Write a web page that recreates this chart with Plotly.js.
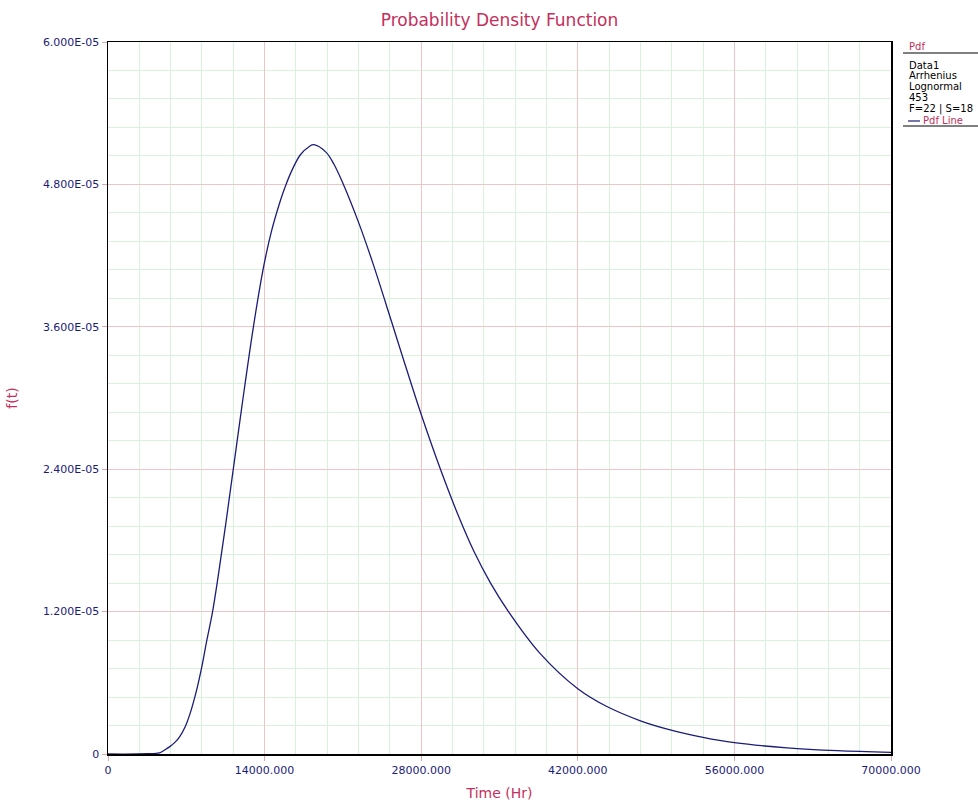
<!DOCTYPE html>
<html>
<head>
<meta charset="utf-8">
<script src="https://cdn.plot.ly/plotly-3.0.1.min.js"></script>
<style>html,body{margin:0;padding:0;background:#fff;}#chart{width:978px;height:803px;}</style>
</head>
<body>
<div id="chart"></div>
<script>
// Data
const timeHr = [0, 3500, 4600, 5000, 5500, 6000, 6400, 6900, 7300, 7900, 8400, 8800, 9350, 9900, 10500, 11200, 12000, 13000, 13900, 14600, 15400, 15800, 16400, 17200, 18000, 18400, 19500, 20200, 21000, 22400, 23700, 25360, 26700, 28040, 29680, 31400, 32700, 34200, 35800, 38600, 42000, 44600, 47600, 50000, 53200, 56000, 60700, 65200, 70000];
const pdfE5 = [0, 0.002, 0.01, 0.03, 0.06, 0.10, 0.145, 0.23, 0.33, 0.53, 0.74, 0.94, 1.20, 1.53, 1.92, 2.40, 2.95, 3.60, 4.10, 4.40, 4.66, 4.77, 4.91, 5.05, 5.12, 5.135, 5.07, 4.97, 4.81, 4.48, 4.13, 3.64, 3.24, 2.85, 2.41, 1.99, 1.71, 1.44, 1.20, 0.85, 0.55, 0.40, 0.28, 0.21, 0.14, 0.095, 0.052, 0.028, 0.014];
const xTickVals = [0, 14000, 28000, 42000, 56000, 70000];
const xTickText = ["0", "14000.000", "28000.000", "42000.000", "56000.000", "70000.000"];
const yTickVals = [0, 1.2e-5, 2.4e-5, 3.6e-5, 4.8e-5, 6.0e-5];
const yTickText = ["0", "1.200E-05", "2.400E-05", "3.600E-05", "4.800E-05", "6.000E-05"];
const legendLines = ["Data1", "Arrhenius", "Lognormal", "453", "F=22 | S=18"];

const pdfVals = pdfE5.map(v => v * 1e-5);

const navy = '#1c1c78';
const crimson = '#c4305c';
const font = 'DejaVu Sans, Verdana, sans-serif';

// plot area pixel helpers for legend placement (paper coords)
const L = 108, R = 891, T = 42, B = 754;
const px = x => (x - L) / (R - L);
const py = y => (B - y) / (B - T);

const legendY = [65, 76, 87, 98, 109];
const annotations = [
  {text: 'Pdf', x: px(908), y: py(46), color: crimson},
].concat(legendLines.map((t, i) => ({text: t, x: px(908), y: py(legendY[i]), color: '#000'})))
 .concat([{text: 'Pdf Line', x: px(922), y: py(120), color: crimson}])
 .map(a => ({
   text: a.text, x: a.x, y: a.y, xref: 'paper', yref: 'paper',
   xanchor: 'left', yanchor: 'middle', showarrow: false,
   font: {family: font, size: 10, color: a.color}, borderpad: 0
 }));

const shapes = [
  {type: 'line', xref: 'paper', yref: 'paper', x0: px(903), x1: px(978), y0: py(53), y1: py(53), line: {color: '#000', width: 1}},
  {type: 'line', xref: 'paper', yref: 'paper', x0: px(908), x1: px(920), y0: py(121), y1: py(121), line: {color: navy, width: 1.2}},
  {type: 'line', xref: 'paper', yref: 'paper', x0: px(903), x1: px(978), y0: py(126), y1: py(126), line: {color: '#000', width: 1}}
];

const trace = {
  x: timeHr, y: pdfVals, type: 'scatter', mode: 'lines',
  line: {color: navy, width: 1.3, shape: 'spline', smoothing: 1},
  name: 'Pdf Line', hoverinfo: 'x+y'
};

const layout = {
  width: 978, height: 803,
  margin: {l: L, r: 978 - R, t: T, b: 803 - B},
  paper_bgcolor: '#fff', plot_bgcolor: '#fff',
  showlegend: false,
  title: {text: 'Probability Density Function', x: 0.5, xref: 'paper', y: (803 - 20) / 803, yanchor: 'middle',
          font: {family: font, size: 17, color: crimson}},
  xaxis: {
    range: [0, 70000], tickmode: 'array', tickvals: xTickVals, ticktext: xTickText,
    ticks: 'outside', ticklen: 5, tickcolor: '#e0a8a8',
    tickfont: {family: font, size: 11, color: navy},
    showgrid: true, gridcolor: '#f0c4c4', gridwidth: 1,
    minor: {dtick: 2800, tick0: 0, showgrid: true, gridcolor: '#d9f2d9', gridwidth: 1, ticks: ''},
    showline: true, linecolor: '#000', linewidth: 1.5, mirror: true, zeroline: false,
    title: {text: 'Time (Hr)', standoff: 12, font: {family: font, size: 14, color: crimson}}
  },
  yaxis: {
    range: [0, 6e-5], tickmode: 'array', tickvals: yTickVals, ticktext: yTickText,
    ticks: 'outside', ticklen: 5, tickcolor: '#e0a8a8',
    tickfont: {family: font, size: 11, color: navy},
    showgrid: true, gridcolor: '#f0c4c4', gridwidth: 1,
    minor: {dtick: 2.4e-6, tick0: 0, showgrid: true, gridcolor: '#d9f2d9', gridwidth: 1, ticks: ''},
    showline: true, linecolor: '#000', linewidth: 1.5, mirror: true, zeroline: false,
    title: {text: 'f(t)', standoff: 22, font: {family: font, size: 14, color: crimson}}
  },
  annotations: annotations,
  shapes: shapes
};

Plotly.newPlot('chart', [trace], layout, {displayModeBar: false, staticPlot: true});
</script>
</body>
</html>
